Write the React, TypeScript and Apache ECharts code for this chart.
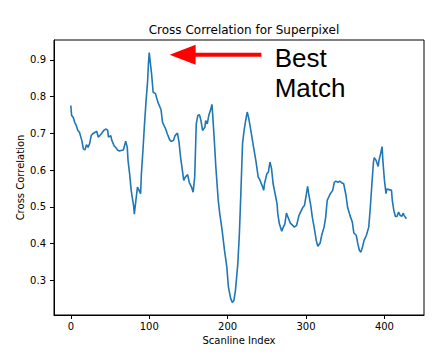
import React, { useEffect, useRef } from "react";
import * as echarts from "echarts";

const scanIndex = [
  0, 1, 3, 5, 7, 9, 11, 14, 16, 18, 20, 22, 24, 26, 28, 31, 33, 35, 37, 39,
  42, 45, 47, 48, 51, 52, 55, 57, 60, 62, 65, 67, 70, 72, 73, 75, 77, 78, 80, 81,
  83, 85, 87, 89, 90, 92, 94, 96, 98, 99, 100, 101, 103, 105, 108, 111, 115, 117, 121, 123,
  126, 128, 131, 133, 136, 138, 140, 142, 144, 146, 149, 151, 154, 156, 158, 159, 160, 162, 164, 166,
  168, 171, 172, 174, 176, 178, 180, 181, 183, 185, 188, 190, 193, 196, 199, 201, 204, 206, 208, 210,
  213, 215, 217, 219, 221, 223, 225, 227, 230, 233, 236, 239, 241, 244, 246, 247, 250, 252, 254, 256,
  258, 261, 263, 264, 266, 269, 271, 273, 275, 277, 280, 283, 285, 288, 291, 293, 296, 298, 300, 302,
  303, 306, 308, 311, 313, 315, 318, 320, 323, 325, 327, 329, 331, 334, 336, 338, 341, 343, 346, 348,
  351, 353, 356, 359, 361, 364, 366, 368, 370, 372, 374, 377, 380, 382, 384, 386, 387, 389, 392, 393,
  395, 397, 398, 400, 402, 403, 406, 409, 410, 412, 414, 416, 418, 420, 422, 424, 425, 428,
];

const correlation = [
  0.776, 0.749, 0.744, 0.73, 0.721, 0.708, 0.703, 0.681, 0.658, 0.655, 0.669, 0.662, 0.672, 0.694, 0.699, 0.703, 0.706, 0.69, 0.694, 0.699,
  0.708, 0.712, 0.708, 0.69, 0.694, 0.683, 0.667, 0.662, 0.654, 0.652, 0.654, 0.655, 0.679, 0.662, 0.626, 0.59, 0.545, 0.531, 0.504, 0.48,
  0.518, 0.554, 0.545, 0.536, 0.59, 0.654, 0.726, 0.789, 0.844, 0.89, 0.92, 0.9, 0.862, 0.812, 0.808, 0.785, 0.765, 0.73, 0.712, 0.699,
  0.683, 0.678, 0.681, 0.694, 0.701, 0.676, 0.635, 0.604, 0.572, 0.581, 0.588, 0.567, 0.554, 0.54, 0.581, 0.654, 0.726, 0.749, 0.751, 0.735,
  0.708, 0.717, 0.735, 0.726, 0.749, 0.762, 0.779, 0.749, 0.681, 0.608, 0.518, 0.481, 0.436, 0.382, 0.336, 0.282, 0.25, 0.24, 0.246, 0.273,
  0.346, 0.427, 0.545, 0.672, 0.708, 0.735, 0.758, 0.74, 0.703, 0.663, 0.626, 0.581, 0.574, 0.558, 0.545, 0.563, 0.59, 0.595, 0.622, 0.604,
  0.563, 0.531, 0.509, 0.481, 0.454, 0.434, 0.445, 0.454, 0.483, 0.472, 0.456, 0.45, 0.445, 0.45, 0.477, 0.486, 0.499, 0.504, 0.529, 0.556,
  0.54, 0.504, 0.472, 0.436, 0.409, 0.393, 0.402, 0.423, 0.445, 0.471, 0.518, 0.527, 0.536, 0.545, 0.567, 0.57, 0.567, 0.57, 0.565, 0.563,
  0.531, 0.499, 0.477, 0.459, 0.429, 0.423, 0.4, 0.382, 0.377, 0.391, 0.409, 0.423, 0.445, 0.499, 0.563, 0.622, 0.634, 0.628, 0.61, 0.626,
  0.644, 0.664, 0.626, 0.572, 0.536, 0.549, 0.547, 0.545, 0.518, 0.49, 0.474, 0.474, 0.486, 0.477, 0.474, 0.483, 0.477, 0.468,
];

const xTicks = [0, 100, 200, 300, 400];
const yTicks = [0.3, 0.4, 0.5, 0.6, 0.7, 0.8, 0.9];

// annotation (data coordinates)
const arrowTip = [126, 0.914];
const arrowTail = [243, 0.914];
const noteAnchor = [260, 0.88];
const noteLines = ["Best", "Match"];

const FONT = "'DejaVu Sans', sans-serif";

export default function App() {
  const ref = useRef<HTMLDivElement>(null);
  useEffect(() => {
    if (!ref.current) return;
    const chart = echarts.init(ref.current, null, { renderer: "svg" });
    const xMin = -21.45;
    const xMax = 450.45;
    const yMin = 0.206;
    const yMax = 0.954;
    chart.setOption({
      animation: false,
      backgroundColor: "#fff",
      title: {
        text: "Cross Correlation for Superpixel",
        left: 239,
        textAlign: "center",
        top: 19,
        textStyle: { fontFamily: FONT, fontSize: 12, fontWeight: "normal", color: "#000" },
      },
      grid: {
        left: 54,
        top: 40,
        width: 370,
        height: 275,
        show: true,
        borderColor: "#000",
        borderWidth: 1,
        backgroundColor: "transparent",
      },
      xAxis: {
        type: "value",
        min: xMin,
        max: xMax,
        name: "Scanline Index",
        nameLocation: "middle",
        nameGap: 20,
        nameMoveOverlap: false,
        nameTextStyle: { fontFamily: FONT, fontSize: 10, color: "#000" },
        axisLine: { show: true, onZero: false, lineStyle: { color: "#000", width: 1 } },
        axisTick: { show: true, length: 4, customValues: xTicks, lineStyle: { color: "#000" } },
        axisLabel: {
          customValues: xTicks,
          margin: 6,
          fontFamily: FONT,
          fontSize: 10,
          color: "#000",
        },
        splitLine: { show: false },
      },
      yAxis: {
        type: "value",
        min: yMin,
        max: yMax,
        name: "Cross Correlation",
        nameLocation: "middle",
        nameGap: 29,
        nameMoveOverlap: false,
        nameTextStyle: { fontFamily: FONT, fontSize: 10, color: "#000" },
        axisLine: { show: true, onZero: false, lineStyle: { color: "#000", width: 1 } },
        axisTick: { show: true, length: 4, customValues: yTicks, lineStyle: { color: "#000" } },
        axisLabel: {
          customValues: yTicks,
          margin: 8,
          fontFamily: FONT,
          fontSize: 10,
          color: "#000",
          formatter: (v: number) => v.toFixed(1),
        },
        splitLine: { show: false },
      },
      series: [
        {
          type: "line",
          data: scanIndex.map((x, i) => [x, correlation[i]]),
          showSymbol: false,
          symbol: "none",
          lineStyle: { color: "#1f77b4", width: 1.6 },
          itemStyle: { color: "#1f77b4" },
        },
      ],
    });

    const tip = chart.convertToPixel({ gridIndex: 0 }, arrowTip) as number[];
    const tail = chart.convertToPixel({ gridIndex: 0 }, arrowTail) as number[];
    const anchor = chart.convertToPixel({ gridIndex: 0 }, noteAnchor) as number[];
    const headLen = 26;
    const headHalf = 10;
    const shaft = 2;
    chart.setOption({
      graphic: [
        {
          type: "polygon",
          shape: {
            points: [
              [tip[0], tip[1]],
              [tip[0] + headLen, tip[1] - headHalf],
              [tip[0] + headLen, tip[1] + headHalf],
            ],
          },
          style: { fill: "#ff0000" },
          z: 100,
        },
        {
          type: "rect",
          shape: { x: tip[0] + headLen - 1, y: tip[1] - shaft, width: tail[0] - tip[0] - headLen + 1, height: shaft * 2 },
          style: { fill: "#ff0000" },
          z: 100,
        },
        ...noteLines.map((t, i) => ({
          type: "text",
          x: anchor[0],
          y: anchor[1] - 9 + i * 29.3,
          style: {
            text: t,
            font: "26px 'Liberation Sans', Arial, sans-serif",
            fill: "#000",
            align: "left",
            verticalAlign: "middle",
          },
          z: 100,
        })),
      ],
    });
    return () => chart.dispose();
  }, []);
  return (
    <div
      ref={ref}
      style={{ position: "fixed", left: 0, top: 0, width: 444, height: 354, background: "#fff" }}
    />
  );
}
